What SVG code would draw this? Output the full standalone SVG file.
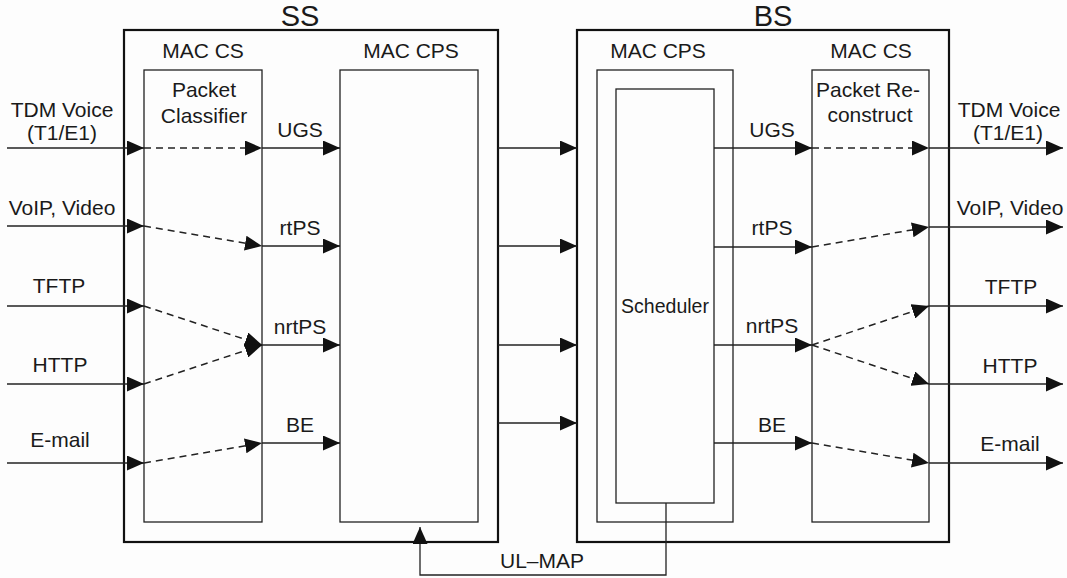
<svg xmlns="http://www.w3.org/2000/svg" width="1067" height="578" viewBox="0 0 1067 578">
<style>
.outer{fill:none;stroke:#111;stroke-width:2.2}
.inner{fill:none;stroke:#222;stroke-width:1.3}
.ln{fill:none;stroke:#222;stroke-width:1.3}
.dash{fill:none;stroke:#222;stroke-width:1.5;stroke-dasharray:7,5}
.t{font-family:"Liberation Sans",Arial,sans-serif;font-size:21px;fill:#1a1a1a;text-anchor:middle}
.big{font-size:29px}
.sm{font-size:19.5px}
</style>
<defs>
<marker id="ah" markerUnits="userSpaceOnUse" markerWidth="17" markerHeight="15" refX="17" refY="7.5" orient="auto">
<path d="M0,0 L17,7.5 L0,15 z" fill="#111"/>
</marker>
</defs>
<rect width="1067" height="578" fill="#fdfdfd"/>

<g id="ss">
<rect class="outer" x="124" y="30" width="374" height="512"/>
<text class="t big" x="300" y="26">SS</text>
</g>
<g id="ss-mac-cs">
<rect class="inner" x="144" y="70" width="118" height="452"/>
<text class="t" x="203" y="58">MAC CS</text>
<text class="t" x="204" y="97">Packet</text>
<text class="t" x="204" y="123">Classifier</text>
</g>
<g id="ss-mac-cps">
<rect class="inner" x="340" y="70" width="138" height="452"/>
<text class="t" x="411" y="58">MAC CPS</text>
</g>
<g id="bs">
<rect class="outer" x="577" y="30" width="372" height="512"/>
<text class="t big" x="773" y="26">BS</text>
</g>
<g id="bs-mac-cps">
<rect class="inner" x="597" y="70" width="136" height="452"/>
<text class="t" x="658" y="58">MAC CPS</text>
</g>
<g id="scheduler">
<rect class="inner" x="616" y="89" width="98" height="414"/>
<text class="t sm" x="665" y="313">Scheduler</text>
</g>
<g id="bs-mac-cs">
<rect class="inner" x="812" y="70" width="117" height="452"/>
<text class="t" x="871" y="58">MAC CS</text>
<text class="t" x="868" y="97">Packet Re-</text>
<text class="t" x="870" y="122">construct</text>
</g>

<g id="labels">
<text class="t" x="62" y="117">TDM Voice</text>
<text class="t" x="62" y="140">(T1/E1)</text>
<text class="t" x="62" y="215">VoIP, Video</text>
<text class="t" x="59" y="293">TFTP</text>
<text class="t" x="60" y="372">HTTP</text>
<text class="t" x="60" y="447">E-mail</text>
<text class="t" x="300" y="137">UGS</text>
<text class="t" x="300" y="235">rtPS</text>
<text class="t" x="300" y="334">nrtPS</text>
<text class="t" x="300" y="432">BE</text>
<text class="t" x="772" y="137">UGS</text>
<text class="t" x="772" y="235">rtPS</text>
<text class="t" x="772" y="333">nrtPS</text>
<text class="t" x="772" y="432">BE</text>
<text class="t" x="1009" y="117">TDM Voice</text>
<text class="t" x="1008" y="140">(T1/E1)</text>
<text class="t" x="1010" y="215">VoIP, Video</text>
<text class="t" x="1011" y="294">TFTP</text>
<text class="t" x="1010" y="373">HTTP</text>
<text class="t" x="1010" y="451">E-mail</text>
<text class="t" x="542" y="568">UL–MAP</text>
</g>

<g id="connectors">
<line class="ln" x1="7" y1="148" x2="144" y2="148" marker-end="url(#ah)"/>
<line class="ln" x1="7" y1="226" x2="144" y2="226" marker-end="url(#ah)"/>
<line class="ln" x1="7" y1="306" x2="144" y2="306" marker-end="url(#ah)"/>
<line class="ln" x1="7" y1="384" x2="144" y2="384" marker-end="url(#ah)"/>
<line class="ln" x1="7" y1="463" x2="144" y2="463" marker-end="url(#ah)"/>
<line class="dash" x1="144" y1="148" x2="262" y2="148" marker-end="url(#ah)"/>
<line class="dash" x1="144" y1="226" x2="262" y2="246" marker-end="url(#ah)"/>
<line class="dash" x1="144" y1="306" x2="262" y2="345" marker-end="url(#ah)"/>
<line class="dash" x1="144" y1="384" x2="262" y2="345" marker-end="url(#ah)"/>
<line class="dash" x1="144" y1="463" x2="262" y2="443" marker-end="url(#ah)"/>
<line class="ln" x1="262" y1="148" x2="340" y2="148" marker-end="url(#ah)"/>
<line class="ln" x1="262" y1="246" x2="340" y2="246" marker-end="url(#ah)"/>
<line class="ln" x1="262" y1="345" x2="340" y2="345" marker-end="url(#ah)"/>
<line class="ln" x1="262" y1="443" x2="340" y2="443" marker-end="url(#ah)"/>
<line class="ln" x1="498" y1="148" x2="577" y2="148" marker-end="url(#ah)"/>
<line class="ln" x1="498" y1="246" x2="577" y2="246" marker-end="url(#ah)"/>
<line class="ln" x1="498" y1="345" x2="577" y2="345" marker-end="url(#ah)"/>
<line class="ln" x1="498" y1="423" x2="577" y2="423" marker-end="url(#ah)"/>
<line class="ln" x1="714" y1="148" x2="812" y2="148" marker-end="url(#ah)"/>
<line class="ln" x1="714" y1="247" x2="812" y2="247" marker-end="url(#ah)"/>
<line class="ln" x1="714" y1="345" x2="812" y2="345" marker-end="url(#ah)"/>
<line class="ln" x1="714" y1="443" x2="812" y2="443" marker-end="url(#ah)"/>
<line class="dash" x1="812" y1="148" x2="929" y2="148" marker-end="url(#ah)"/>
<line class="dash" x1="812" y1="247" x2="929" y2="227" marker-end="url(#ah)"/>
<line class="dash" x1="812" y1="345" x2="929" y2="306" marker-end="url(#ah)"/>
<line class="dash" x1="812" y1="345" x2="929" y2="384" marker-end="url(#ah)"/>
<line class="dash" x1="812" y1="443" x2="929" y2="463" marker-end="url(#ah)"/>
<line class="ln" x1="929" y1="148" x2="1063" y2="148" marker-end="url(#ah)"/>
<line class="ln" x1="929" y1="227" x2="1063" y2="227" marker-end="url(#ah)"/>
<line class="ln" x1="929" y1="306" x2="1063" y2="306" marker-end="url(#ah)"/>
<line class="ln" x1="929" y1="384" x2="1063" y2="384" marker-end="url(#ah)"/>
<line class="ln" x1="929" y1="463" x2="1063" y2="463" marker-end="url(#ah)"/>
<polyline class="ln" points="666,503 666,575 420,575 420,527" marker-end="url(#ah)"/>
</g>
</svg>
